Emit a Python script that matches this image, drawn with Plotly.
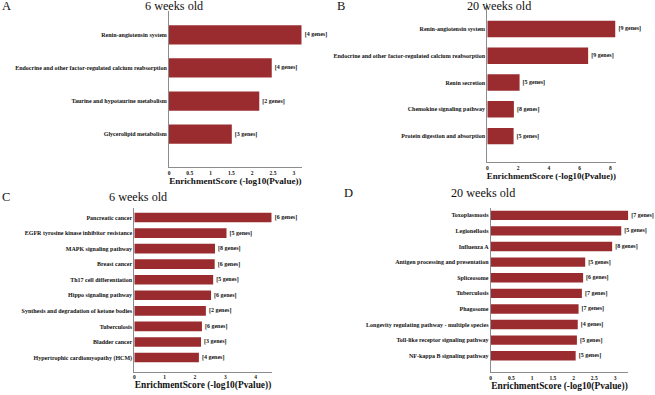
import plotly.graph_objects as go

W, H = 655, 395

# ---------------- data ----------------
cats_a = ["Renin-angiotensin system",
          "Endocrine and other factor-regulated calcium reabsorption",
          "Taurine and hypotaurine metabolism",
          "Glycerolipid metabolism"]
vals_a = [3.19, 2.47, 2.17, 1.51]
genes_a = [4, 4, 2, 3]

cats_b = ["Renin-angiotensin system",
          "Endocrine and other factor-regulated calcium reabsorption",
          "Renin secretion",
          "Chemokine signaling pathway",
          "Protein digestion and absorption"]
vals_b = [8.34, 6.56, 2.10, 1.73, 1.71]
genes_b = [9, 9, 5, 8, 5]

cats_c = ["Pancreatic cancer",
          "EGFR tyrosine kinase inhibitor resistance",
          "MAPK signaling pathway",
          "Breast cancer",
          "Th17 cell differentiation",
          "Hippo signaling pathway",
          "Synthesis and degradation of ketone bodies",
          "Tuberculosis",
          "Bladder cancer",
          "Hypertrophic cardiomyopathy (HCM)"]
vals_c = [4.53, 3.04, 2.66, 2.65, 2.60, 2.53, 2.36, 2.23, 2.20, 2.13]
genes_c = [6, 5, 8, 6, 5, 6, 2, 6, 3, 4]

cats_d = ["Toxoplasmosis",
          "Legionellosis",
          "Influenza A",
          "Antigen processing and presentation",
          "Spliceosome",
          "Tuberculosis",
          "Phagosome",
          "Longevity regulating pathway - multiple species",
          "Toll-like receptor signaling pathway",
          "NF-kappa B signaling pathway"]
vals_d = [3.32, 3.15, 2.93, 2.28, 2.23, 2.20, 2.12, 2.10, 2.08, 2.05]
genes_d = [7, 5, 8, 5, 6, 7, 7, 4, 5, 5]

panel_titles = ["6 weeks old", "20 weeks old", "6 weeks old", "20 weeks old"]
panel_letters = ["A", "B", "C", "D"]
x_title = "EnrichmentScore (-log10(Pvalue))"
x_dticks = [0.5, 2, 1, 0.5]

# ---------------- style ----------------
FONT = "Liberation Serif, Times New Roman, serif"
BAR = "#9a2c2f"
AXC = "#8c8c8c"

def px_x(p):
    return p / W

def px_y(p):
    return 1 - p / H

geo = [
    dict(x0=169, x1=301.7, yt=11, yb=167.3, lo=1.0, hi=0.72, w=0.58, tf=9.1, sd=2),
    dict(x0=487.3, x1=615.5, yt=3, yb=162.3, lo=0.98, hi=0.97, w=0.61, tf=8.9, sd=1),
    dict(x0=134.3, x1=271.7, yt=208, yb=371.7, lo=0.91, hi=0.61, w=0.62, tf=9.4, sd=0),
    dict(x0=490.7, x1=628.3, yt=208.3, yb=372.3, lo=1.06, hi=0.45, w=0.60, tf=9.4, sd=2),
]
title_pos = [(174, 6.5), (499, 6.5), (137.5, 197), (483, 193.5)]
letter_pos = [(0, 6.5), (335, 6.5), (0, 197), (342, 193.5)]

data = [(cats_a, vals_a, genes_a), (cats_b, vals_b, genes_b),
        (cats_c, vals_c, genes_c), (cats_d, vals_d, genes_d)]

fig = go.Figure()
layout = {}
annotations = []
for i, ((cats, vals, genes), g) in enumerate(zip(data, geo)):
    sfx = "" if i == 0 else str(i + 1)
    fig.add_trace(go.Bar(
        x=vals, y=cats, orientation="h",
        marker=dict(color=BAR, line=dict(width=0)),
        width=g["w"],
        text=["[%d genes]" % n for n in genes],
        textposition="outside",
        constraintext="none",
        cliponaxis=False,
        textfont=dict(family=FONT, size=6, color="#111", weight="bold"),
        xaxis="x" + sfx, yaxis="y" + sfx,
        showlegend=False,
        hoverinfo="x+y",
    ))
    n = len(cats)
    layout["xaxis" + sfx] = dict(
        domain=[px_x(g["x0"]), px_x(g["x1"])],
        anchor="y" + sfx,
        automargin=False,
        range=[0, max(vals)],
        dtick=x_dticks[i], tick0=0,
        showline=True, linecolor=AXC, linewidth=1,
        ticks="",
        showgrid=False, zeroline=False,
        tickfont=dict(family=FONT, size=5.5, color="#111", weight="bold"),
        title=dict(text=x_title, standoff=g["sd"],
                   font=dict(family=FONT, size=g["tf"], color="#111", weight="bold")),
        fixedrange=True,
    )
    layout["yaxis" + sfx] = dict(
        domain=[px_y(g["yb"]), px_y(g["yt"])],
        anchor="x" + sfx,
        automargin=False,
        type="category",
        categoryorder="array", categoryarray=list(reversed(cats)),
        range=[-g["lo"], n - 1 + g["hi"]],
        showline=True, linecolor=AXC, linewidth=1,
        ticks="", showgrid=False, zeroline=False,
        tickfont=dict(family=FONT, size=6, color="#111", weight="bold"),
        fixedrange=True,
    )
    tx, ty = title_pos[i]
    annotations.append(dict(text=panel_titles[i], x=px_x(tx), y=px_y(ty),
                            xref="paper", yref="paper", xanchor="center", yanchor="middle",
                            showarrow=False, font=dict(family=FONT, size=12.2, color="#111")))
    lx, ly = letter_pos[i]
    annotations.append(dict(text=panel_letters[i], x=px_x(lx), y=px_y(ly),
                            xref="paper", yref="paper", xanchor="left", yanchor="middle",
                            showarrow=False, font=dict(family=FONT, size=12.5, color="#111")))

fig.update_layout(
    template="none",
    width=W, height=H,
    margin=dict(l=0, r=0, t=0, b=0),
    paper_bgcolor="white", plot_bgcolor="white",
    font=dict(family=FONT),
    annotations=annotations,
    **layout,
)

fig.write_html("out.html",
               config={"displayModeBar": False},
               post_script="document.body.style.margin='0';document.body.style.overflow='hidden';")
